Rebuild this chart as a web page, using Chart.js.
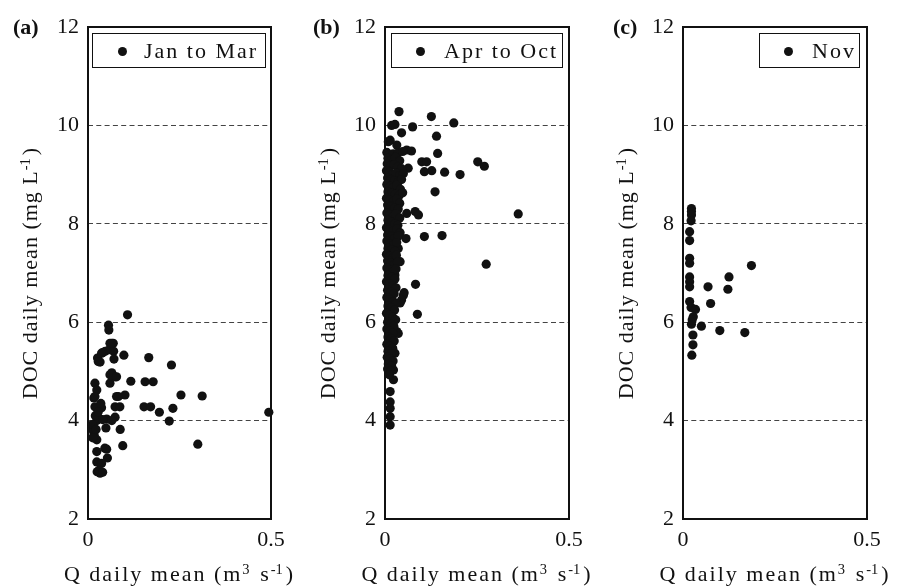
<!DOCTYPE html>
<html><head><meta charset="utf-8">
<script src="https://cdn.jsdelivr.net/npm/chart.js@4.4.0/dist/chart.umd.min.js"></script>
<style>
body{margin:0;background:#fff;}
#wrap{position:relative;width:900px;height:586px;overflow:hidden;font-family:"Liberation Serif","Times New Roman",serif;color:#111;}
canvas{position:absolute;top:0;}
.t{position:absolute;font-size:22px;line-height:22px;white-space:nowrap;letter-spacing:2px;}
.pl{font-weight:bold;letter-spacing:0;}
.xt{width:320px;text-align:center;}
.yt{width:400px;text-align:center;transform:rotate(-90deg);transform-origin:50% 50%;letter-spacing:1px;}
sup{font-size:0.66em;position:relative;top:-0.5em;vertical-align:baseline;line-height:0;letter-spacing:0;margin-right:3px;}
.lg{position:absolute;border:1px solid #111;height:33px;background:#fff;}
.lg .d{position:absolute;width:9px;height:9px;border-radius:50%;background:#111;top:13px;}
.lg .tx{position:absolute;top:6px;font-size:22px;line-height:22px;letter-spacing:2px;white-space:nowrap;}
</style></head>
<body><div id="wrap">
<canvas id="ca" width="300" height="586" style="left:0"></canvas>
<canvas id="cb" width="300" height="586" style="left:300px"></canvas>
<canvas id="cc" width="300" height="586" style="left:600px"></canvas>
</div>
<script>
// ---- data ----
const panelLabels = ['(a)', '(b)', '(c)'];
const legendLabels = ['Jan to Mar', 'Apr to Oct', 'Nov'];
const yTicks = [2, 4, 6, 8, 10, 12];
const xTicks = [0, 0.5];
const xTickLabels = ['0', '0.5'];

const aQ = [0.108,0.056,0.057,0.060,0.069,0.047,0.058,0.070,0.040,0.026,0.033,0.071,0.098,0.166,0.228,0.065,0.074,0.060,0.117,0.156,0.178,0.019,0.024,0.016,0.078,0.101,0.254,0.312,0.019,0.037,0.074,0.087,0.153,0.171,0.195,0.232,0.222,0.494,0.074,0.051,0.065,0.024,0.015,0.017,0.010,0.012,0.020,0.030,0.040,0.049,0.088,0.024,0.095,0.300,0.051,0.024,0.046,0.053,0.024,0.037,0.025,0.033,0.030,0.040,0.013,0.028,0.035,0.022,0.065,0.060,0.037,0.028,0.078,0.083,0.019];
const aDOC = [6.15,5.94,5.84,5.57,5.57,5.41,5.44,5.41,5.38,5.27,5.19,5.25,5.33,5.28,5.13,4.97,4.89,4.76,4.80,4.79,4.79,4.76,4.62,4.46,4.49,4.52,4.52,4.50,4.28,4.26,4.28,4.28,4.28,4.28,4.17,4.25,3.99,4.17,4.07,4.03,4.00,4.00,3.78,3.70,3.85,3.92,4.10,4.05,4.02,3.85,3.82,3.61,3.49,3.52,3.42,3.37,3.44,3.24,3.16,3.13,2.96,2.93,2.99,2.95,3.65,4.18,4.35,3.82,5.57,4.93,5.37,5.20,4.89,4.49,4.49];

const bQ = [0.038,0.018,0.027,0.045,0.075,0.126,0.187,0.140,0.014,0.032,0.059,0.143,0.063,0.100,0.113,0.107,0.127,0.162,0.204,0.252,0.270,0.136,0.362,0.082,0.091,0.059,0.057,0.107,0.155,0.275,0.083,0.052,0.050,0.045,0.041,0.088,0.032,0.023,0.014,0.014,0.014,0.014,0.014,0.036,0.041,0.027,0.036,0.027,0.023,0.009,0.072,
  0.005,0.012,0.022,0.035,0.048,0.008,0.018,0.028,0.040,0.006,0.015,0.025,0.034,0.045,0.004,0.012,0.020,0.030,0.040,0.050,0.007,0.016,0.026,0.036,0.045,0.005,0.014,0.022,0.032,0.042,0.008,0.018,0.028,0.038,0.048,0.004,0.012,0.022,0.032,0.040,0.007,0.016,0.026,0.036,0.005,0.013,0.022,0.030,0.040,0.008,0.018,0.027,0.035,0.004,0.012,0.022,0.032,0.041,0.007,0.016,0.026,0.036,0.005,0.014,0.023,0.032,0.008,0.018,0.027,0.004,0.012,0.022,0.031,0.007,0.016,0.025,0.034,0.005,0.013,0.022,0.030,0.008,0.018,0.027,0.004,0.012,0.021,0.030,0.007,0.016,0.025,0.005,0.013,0.022,0.030,0.008,0.017,0.026,0.004,0.012,0.021,0.029,0.007,0.016,0.024,0.005,0.013,0.021,0.008,0.017,0.025,0.005,0.013,0.021,0.008,0.017,0.006,0.014,0.022,0.009,0.018,0.007,0.015,0.012];
const bDOC = [10.28,10.00,10.02,9.85,9.97,10.18,10.05,9.78,9.70,9.60,9.50,9.43,9.13,9.26,9.26,9.06,9.08,9.05,9.00,9.26,9.17,8.65,8.20,8.25,8.18,8.21,7.70,7.74,7.76,7.18,6.77,6.60,6.55,6.45,6.39,6.16,5.81,4.83,4.59,4.38,4.25,4.08,3.91,7.50,7.23,6.96,5.77,5.37,5.03,9.67,9.48,
  9.45,9.40,9.42,9.44,9.47,9.33,9.30,9.35,9.28,9.22,9.18,9.20,9.15,9.12,9.08,9.05,9.00,9.03,8.98,9.02,8.93,8.90,8.88,8.85,8.90,8.80,8.76,8.73,8.78,8.70,8.65,8.62,8.60,8.57,8.63,8.52,8.48,8.45,8.50,8.42,8.38,8.35,8.32,8.30,8.22,8.18,8.15,8.20,8.12,8.07,8.03,8.00,7.97,7.92,7.88,7.85,7.90,7.82,7.77,7.73,7.70,7.75,7.65,7.60,7.57,7.62,7.50,7.47,7.44,7.38,7.34,7.31,7.36,7.25,7.20,7.17,7.22,7.10,7.06,7.03,7.08,6.95,6.91,6.88,6.82,6.78,6.74,6.70,6.65,6.61,6.58,6.50,6.46,6.42,6.38,6.33,6.29,6.25,6.18,6.14,6.10,6.05,6.00,5.96,5.92,5.86,5.82,5.78,5.70,5.66,5.62,5.55,5.51,5.47,5.41,5.36,5.29,5.25,5.21,5.15,5.11,5.05,5.00,4.93];

const cQ = [0.023,0.023,0.023,0.022,0.018,0.018,0.018,0.018,0.018,0.018,0.018,0.068,0.122,0.125,0.186,0.075,0.018,0.022,0.034,0.028,0.023,0.050,0.100,0.168,0.027,0.027,0.024,0.025];
const cDOC = [8.31,8.25,8.18,8.06,7.84,7.66,7.30,7.20,6.92,6.82,6.72,6.72,6.67,6.92,7.15,6.38,6.42,6.30,6.26,6.11,5.96,5.92,5.83,5.79,5.74,5.54,5.33,6.05];

// ---- layout ----
const panels = [
  {id:'ca', q:aQ, doc:aDOC, off:0,   left:88, right:271, yTitleX:30,  lg:{l:92, w:174, dot:29, tx:51}},
  {id:'cb', q:bQ, doc:bDOC, off:300, left:85, right:269, yTitleX:27.5, lg:{l:91, w:172, dot:28, tx:52}},
  {id:'cc', q:cQ, doc:cDOC, off:600, left:83, right:267, yTitleX:26, lg:{l:159, w:101, dot:28, tx:52}}
];
const TOP = 27, BOTTOM = 519;

const framePlugin = {
  id:'frame',
  beforeDatasetsDraw(chart){
    const a = chart.chartArea, c = chart.ctx;
    c.save(); c.strokeStyle = '#111'; c.lineWidth = 2;
    c.strokeRect(a.left, a.top, a.right - a.left, a.bottom - a.top);
    c.restore();
  }
};

const wrap = document.getElementById('wrap');
function addDiv(cls, html, style){
  const d = document.createElement('div'); d.className = cls; d.innerHTML = html;
  Object.assign(d.style, style); wrap.appendChild(d); return d;
}

panels.forEach((p, i) => {
  const pts = p.q.map((x, k) => ({x, y: p.doc[k]}));
  new Chart(document.getElementById(p.id), {
    type:'scatter',
    data:{datasets:[{label:legendLabels[i], data:pts, pointRadius:4.6, pointHoverRadius:4.6,
      backgroundColor:'#111', borderWidth:0, clip:false}]},
    options:{
      responsive:false, animation:false,
      layout:{padding:{left:0, right:300 - p.right, top:TOP, bottom:0}},
      plugins:{legend:{display:false}, tooltip:{enabled:false}},
      scales:{
        x:{type:'linear', min:0, max:0.5,
          afterBuildTicks:s => { s.ticks = xTicks.map(v => ({value:v})); },
          afterFit:s => { s.height = 586 - BOTTOM; },
          grid:{display:false, drawTicks:false},
          border:{display:false},
          ticks:{padding:8, color:'#111', maxRotation:0, autoSkip:false,
            font:{family:'"Liberation Serif", serif', size:22},
            callback:(v) => xTickLabels[xTicks.indexOf(v)]}
        },
        y:{type:'linear', min:2, max:12,
          afterBuildTicks:s => { s.ticks = yTicks.map(v => ({value:v})); },
          afterFit:s => { s.width = p.left; },
          grid:{drawTicks:false, lineWidth:1,
            color:ctx => (ctx.tick && (ctx.tick.value === 2 || ctx.tick.value === 12)) ? 'rgba(0,0,0,0)' : '#444'},
          border:{display:false, dash:[5,3.3]},
          ticks:{padding:9, color:'#111', autoSkip:false,
            font:{family:'"Liberation Serif", serif', size:22},
            callback:v => String(v)}
        }
      }
    },
    plugins:[framePlugin]
  });

  // panel label
  addDiv('t pl', panelLabels[i], {left:(p.off + 13) + 'px', top:'16px'});
  // x title
  const cx = p.off + (p.left + p.right) / 2;
  addDiv('t xt', 'Q daily mean (m<sup>3</sup> s<sup>-1</sup>)', {left:(cx - 160) + 'px', top:'563px'});
  // y title
  const cy = (TOP + BOTTOM) / 2;
  addDiv('t yt', 'DOC daily mean (mg L<sup>-1</sup>)', {left:(p.off + p.yTitleX - 200) + 'px', top:(cy - 11) + 'px'});
  // legend
  const lg = addDiv('lg', '<div class="d"></div><div class="tx"></div>',
    {left:(p.off + p.lg.l) + 'px', top:'33px', width:(p.lg.w - 2) + 'px'});
  lg.querySelector('.d').style.left = (p.lg.dot - 4.5) + 'px';
  const tx = lg.querySelector('.tx'); tx.style.left = p.lg.tx + 'px'; tx.textContent = legendLabels[i];
});
</script>
</body></html>
